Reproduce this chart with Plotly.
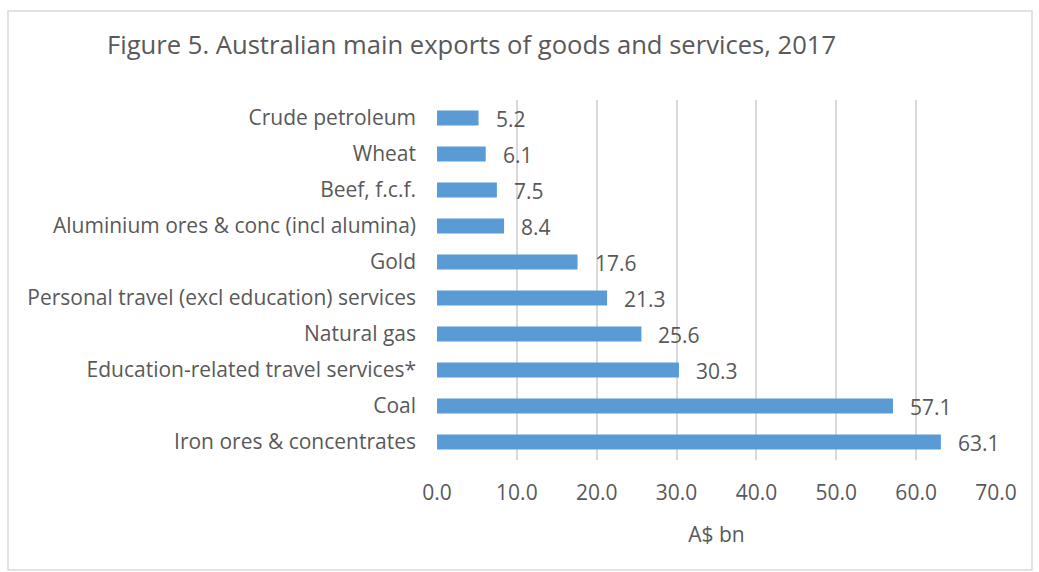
import plotly.graph_objects as go

categories = ["Iron ores & concentrates", "Coal", "Education-related travel services*",
              "Natural gas", "Personal travel (excl education) services", "Gold",
              "Aluminium ores & conc (incl alumina)", "Beef, f.c.f.", "Wheat", "Crude petroleum"]
values = [63.1, 57.1, 30.3, 25.6, 21.3, 17.6, 8.4, 7.5, 6.1, 5.2]
x_ticks = [0, 10, 20, 30, 40, 50, 60, 70]

FONT = "Open Sans"
GRAY = "#595959"
FS = 21

fig = go.Figure(go.Bar(
    x=values, y=categories, orientation="h",
    marker=dict(color="#5B9BD5", line=dict(width=0)),
    width=0.42,
))

for v, c in zip(values, categories):
    fig.add_annotation(x=v, y=c, text=f"{v:.1f}", showarrow=False,
                       xanchor="left", xshift=15, yshift=-1,
                       font=dict(family=FONT, size=FS, color=GRAY))

PL, PR, PT, PB = 437, 996, 100, 460
W, H = 1039, 572

def px_x(p):
    return (p - PL) / (PR - PL)

def px_y(p):
    return (PB - p) / (PB - PT)

fig.add_shape(type="rect", xref="paper", yref="paper",
              x0=px_x(8), x1=px_x(1032), y0=px_y(570), y1=px_y(11),
              line=dict(color="#D9D9D9", width=1.5), layer="below")

fig.update_layout(
    width=W, height=H,
    margin=dict(l=PL, r=W - PR, t=PT, b=H - PB),
    paper_bgcolor="white", plot_bgcolor="white",
    showlegend=False,
    title=dict(text="Figure 5. Australian main exports of goods and services, 2017",
               x=107 / W, xanchor="left", y=1 - 45 / H, yanchor="middle",
               font=dict(family=FONT, size=25.6, color=GRAY)),
    xaxis=dict(range=[0, 70], tickvals=x_ticks,
               ticktext=[f"{t:.1f}" for t in x_ticks],
               showgrid=True, gridcolor="#D9D9D9", gridwidth=1.5,
               zeroline=False, showline=False, ticks="",
               tickfont=dict(family=FONT, size=FS, color=GRAY),
               ticklabelstandoff=18,
               title=dict(text="A$ bn", font=dict(family=FONT, size=FS, color=GRAY),
                          standoff=22)),
    yaxis=dict(showgrid=False, zeroline=False, showline=False, ticks="",
               tickfont=dict(family=FONT, size=FS, color=GRAY),
               ticklabelstandoff=20, automargin=False),
    bargap=0.58,
)
fig.update_xaxes(automargin=False)

fig.write_html("out.html")
